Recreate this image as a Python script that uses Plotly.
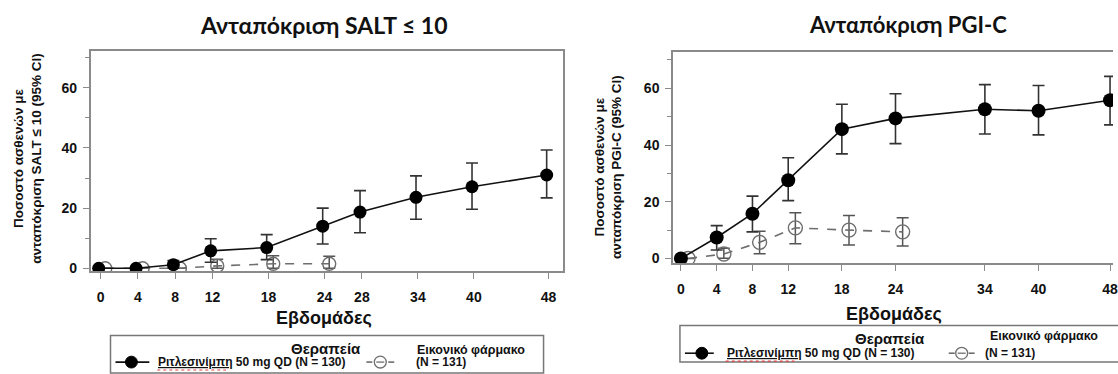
import plotly.graph_objects as go

W, H = 1118, 374

# ---------------- data ----------------
salt_weeks_drug = [0, 4, 8, 12, 18, 24, 28, 34, 40, 48]
salt_drug = [0.0, 0.0, 1.2, 5.8, 6.9, 14.0, 18.7, 23.6, 27.1, 31.0]
salt_drug_lo = [0.0, 0.0, 0.0, 2.0, 2.9, 8.1, 11.8, 16.3, 19.6, 23.4]
salt_drug_hi = [0.0, 0.0, 2.6, 9.8, 11.2, 20.0, 25.8, 30.7, 35.0, 39.3]

salt_weeks_pbo = [0, 4, 8, 12, 18, 24]
salt_pbo = [0.0, 0.0, 0.0, 0.8, 1.5, 1.5]
salt_pbo_lo = [0.0, 0.0, 0.0, 0.0, 0.0, 0.0]
salt_pbo_hi = [0.0, 0.0, 0.0, 3.0, 4.2, 4.0]

pgi_weeks_drug = [0, 4, 8, 12, 18, 24, 34, 40, 48]
pgi_drug = [0.0, 7.4, 15.8, 27.6, 45.6, 49.4, 52.6, 52.1, 55.8]
pgi_drug_lo = [0.0, 3.0, 9.4, 20.4, 36.9, 40.5, 43.9, 43.6, 47.1]
pgi_drug_hi = [0.0, 11.6, 22.0, 35.5, 54.4, 58.1, 61.3, 61.0, 64.2]

pgi_weeks_pbo = [0, 4, 8, 12, 18, 24]
pgi_pbo = [0.0, 1.6, 5.7, 10.8, 10.0, 9.4]
pgi_pbo_lo = [0.0, 0.1, 1.7, 5.2, 4.8, 4.4]
pgi_pbo_hi = [0.0, 3.6, 9.6, 16.1, 15.2, 14.4]

salt_ticks = [0, 4, 8, 12, 18, 24, 28, 34, 40, 48]
pgi_ticks = [0, 4, 8, 12, 18, 24, 34, 40, 48]
y_ticks = [0, 20, 40, 60]

title_salt = "Ανταπόκριση SALT ≤ 10"
title_pgi = "Ανταπόκριση PGI-C"
ytitle_salt = "Ποσοστό ασθενών με<br>ανταπόκριση SALT ≤ 10 (95% CI)"
ytitle_pgi = "Ποσοστό ασθενών με<br>ανταπόκριση PGI-C (95% CI)"
xtitle = "Εβδομάδες"
leg_header = "Θεραπεία"
leg_drug = "<u>Ριτλεσινίμπη</u> 50 mg QD (N = 130)"
leg_pbo_head = "Εικονικό φάρμακο"
leg_pbo = "(N = 131)"

# ---------------- style ----------------
AX_FONT = "Liberation Sans, Arial, sans-serif"
TITLE_FONT = "Lato, Open Sans, sans-serif"
FRAME = "#8a8a8a"
DRUG_COL = "#111111"
PBO_COL = "#6e6e6e"


def px(x):
    return x / W


def py(y):
    return 1 - y / H


def shifted(weeks, d):
    return [w + d for w in weeks]


def errs(v, lo, hi):
    return [h - a for a, h in zip(v, hi)], [a - l for a, l in zip(v, lo)]


fig = go.Figure()


def add_panel(xa, ya, weeks_d, d, dlo, dhi, weeks_p, p, plo, phi, off_d, off_p, msize):
    ep, em = errs(p, plo, phi)
    fig.add_trace(go.Scatter(
        x=shifted(weeks_p, off_p), y=p, xaxis=xa, yaxis=ya, mode="lines+markers",
        line=dict(color=PBO_COL, width=1.6, dash="dash"),
        marker=dict(symbol="circle-open", size=msize, color=PBO_COL, line=dict(width=1.4, color=PBO_COL)),
        error_y=dict(type="data", array=ep, arrayminus=em, color="#555555", thickness=1.5, width=6),
        showlegend=False, hoverinfo="skip"))
    ep, em = errs(d, dlo, dhi)
    fig.add_trace(go.Scatter(
        x=shifted(weeks_d, off_d), y=d, xaxis=xa, yaxis=ya, mode="lines+markers",
        line=dict(color=DRUG_COL, width=1.6),
        marker=dict(symbol="circle", size=msize, color="#000000"),
        error_y=dict(type="data", array=ep, arrayminus=em, color="#333333", thickness=1.6, width=6),
        showlegend=False, hoverinfo="skip"))


add_panel("x", "y", salt_weeks_drug, salt_drug, salt_drug_lo, salt_drug_hi,
          salt_weeks_pbo, salt_pbo, salt_pbo_lo, salt_pbo_hi, -0.2, 0.5, 13)
add_panel("x2", "y2", pgi_weeks_drug, pgi_drug, pgi_drug_lo, pgi_drug_hi,
          pgi_weeks_pbo, pgi_pbo, pgi_pbo_lo, pgi_pbo_hi, 0.0, 0.8, 14)

tickfont = dict(family=AX_FONT, size=14, color="#111111", weight="bold")

common_x = dict(showgrid=False, zeroline=False, showline=True, linecolor=FRAME, linewidth=1.5,
                ticks="outside", ticklen=6, tickwidth=1.3, tickcolor=FRAME, tickfont=tickfont,
                ticklabelstandoff=6, ticklabeloverflow="allow")
common_y = dict(showgrid=False, zeroline=False, showline=True, linecolor=FRAME, linewidth=1.5,
                ticks="outside", ticklen=6, tickwidth=1.3, tickcolor=FRAME, tickfont=tickfont,
                tickvals=y_ticks, ticklabelstandoff=3,
                minor=dict(dtick=10, tick0=0, ticks="outside", ticklen=4, tickcolor=FRAME, tickwidth=1.2))

fig.update_layout(
    width=W, height=H, margin=dict(l=0, r=0, t=0, b=0),
    paper_bgcolor="white", plot_bgcolor="white",
    xaxis=dict(domain=[px(91), px(566)], range=[-1.07, 49.6], anchor="y", mirror=True,
               tickvals=salt_ticks, **common_x),
    yaxis=dict(domain=[py(275), py(52)], range=[-1.0, 72.1], anchor="x", mirror=True, **common_y),
    xaxis2=dict(domain=[px(676), 1.0], range=[-0.89, 48.33], anchor="y2", mirror=True,
                tickvals=pgi_ticks, **common_x),
    yaxis2=dict(domain=[py(267), py(53)], range=[-1.74, 72.7], anchor="x2", mirror=False, **common_y),
)

ann = []
shapes = []


def text(x, y, s, size, family=AX_FONT, xanchor="center", angle=0, color="#111111", weight="bold"):
    ann.append(dict(x=px(x), y=py(y), xref="paper", yref="paper", text=s,
                    showarrow=False, xanchor=xanchor, yanchor="middle", textangle=angle,
                    font=dict(family=family, size=size, color=color, weight=weight)))


# titles
text(325, 25, title_salt, 23, family=TITLE_FONT)
text(912, 25, title_pgi, 22, family=TITLE_FONT)
# axis titles
text(325, 322, xtitle, 18)
text(898, 318, xtitle, 18)
text(28, 161, ytitle_salt, 13.5, angle=-90)
text(611, 169, ytitle_pgi, 13.5, angle=-90)


def legend(bx0, bx1, by0, by1, head_xy, pbo_head_xy, row_y, sol_x0, sol_x1, sol_mx, txt_x, dash_x0, dash_x1, pbo_txt_x, ul_x1):
    shapes.append(dict(type="rect", xref="paper", yref="paper", x0=px(bx0), x1=px(bx1), y0=py(by0), y1=py(by1),
                       line=dict(color="#777777", width=1.5), fillcolor="rgba(0,0,0,0)"))
    text(head_xy[0], head_xy[1], leg_header, 15)
    text(pbo_head_xy[0], pbo_head_xy[1], leg_pbo_head, 12.5, xanchor="left")
    # solid sample
    shapes.append(dict(type="line", xref="paper", yref="paper", x0=px(sol_x0), x1=px(sol_x1), y0=py(row_y), y1=py(row_y),
                       line=dict(color="#111111", width=1.6)))
    r = 6
    shapes.append(dict(type="circle", xref="paper", yref="paper", x0=px(sol_mx - r), x1=px(sol_mx + r),
                       y0=py(row_y + r), y1=py(row_y - r), fillcolor="#000000", line=dict(color="#000000", width=1)))
    text(txt_x, row_y, leg_drug, 12, xanchor="left")
    shapes.append(dict(type="line", xref="paper", yref="paper", x0=px(txt_x + 1), x1=px(ul_x1),
                       y0=py(row_y + 8), y1=py(row_y + 8), line=dict(color="#e04040", width=1.2, dash="dot")))
    # dashed sample
    mx = (dash_x0 + dash_x1) / 2
    shapes.append(dict(type="line", xref="paper", yref="paper", x0=px(dash_x0), x1=px(dash_x0 + 6), y0=py(row_y), y1=py(row_y),
                       line=dict(color=PBO_COL, width=1.6)))
    shapes.append(dict(type="line", xref="paper", yref="paper", x0=px(dash_x1 - 6), x1=px(dash_x1), y0=py(row_y), y1=py(row_y),
                       line=dict(color=PBO_COL, width=1.6)))
    r = 6
    shapes.append(dict(type="circle", xref="paper", yref="paper", x0=px(mx - r), x1=px(mx + r),
                       y0=py(row_y + r), y1=py(row_y - r), line=dict(color=PBO_COL, width=1.3)))
    shapes.append(dict(type="line", xref="paper", yref="paper", x0=px(mx - 4), x1=px(mx + 4), y0=py(row_y), y1=py(row_y),
                       line=dict(color=PBO_COL, width=1.3)))
    text(pbo_txt_x, row_y, leg_pbo, 12, xanchor="left")


legend(111, 546, 340, 378, (327, 353), (417, 355), 367, 116, 150, 132, 157, 368, 396, 416, 227)
legend(683, 1125, 330, 367, (894, 343), (992, 341), 358, 688, 717, 705, 728, 953, 979, 987, 798)

fig.update_layout(annotations=ann, shapes=shapes)
fig.write_html("out.html", config={"displayModeBar": False},
               post_script="document.body.style.margin='0px';document.body.style.overflow='hidden';")
